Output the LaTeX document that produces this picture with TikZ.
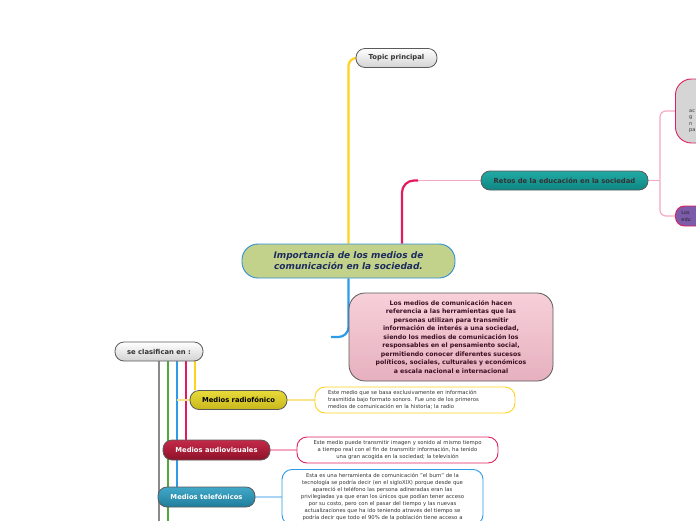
\documentclass[tikz,border=0pt]{standalone}
\usepackage{fontspec}
\setmainfont{DejaVu Sans}
\usetikzlibrary{backgrounds}
\definecolor{lineyellow}{HTML}{FFD21F}
\definecolor{linemag}{HTML}{E5195F}
\definecolor{lineblue}{HTML}{2C9BE8}
\definecolor{linegreen}{HTML}{52A83A}
\definecolor{linegray}{HTML}{8A8A8A}
\definecolor{lightpink}{HTML}{F5A9C1}
\definecolor{lightyellow}{HTML}{FBE38A}
\definecolor{lightblue}{HTML}{A9D4F5}
\definecolor{impfill}{HTML}{C3D28B}
\definecolor{impborder}{HTML}{2F8FD6}
\definecolor{impnavy}{HTML}{1C2B5C}
\definecolor{boxborder}{HTML}{5A5A5A}
\definecolor{textgray}{HTML}{333333}
\definecolor{infotop}{HTML}{F7D0D9}
\definecolor{infobot}{HTML}{E6B0BF}
\definecolor{infotext}{HTML}{3A0F22}
\definecolor{retostop}{HTML}{22AAA5}
\definecolor{retosbot}{HTML}{0E8682}
\definecolor{radiotop}{HTML}{E8DA3A}
\definecolor{radiobot}{HTML}{C9B81C}
\definecolor{audiotop}{HTML}{C42A48}
\definecolor{audiobot}{HTML}{8E1129}
\definecolor{teltop}{HTML}{42A8C8}
\definecolor{telbot}{HTML}{1F7D9C}
\definecolor{purplefill}{HTML}{7B5BAA}
\definecolor{rtopfill}{HTML}{D5D5D5}
\definecolor{rborder}{HTML}{E0205A}
\begin{document}
\begin{tikzpicture}[x=1pt,y=-1pt,
  pill/.style={rounded corners=9pt,minimum height=19pt,inner sep=0pt,draw=boxborder,line width=0.8pt,
    font=\bfseries\fontsize{6.8}{8}\selectfont},
  graypill/.style={pill,top color=white,bottom color=gray!35,text=textgray},
  desc/.style={fill=white,rounded corners=10pt,line width=0.9pt,inner sep=0pt,
    font=\fontsize{5.3}{7}\selectfont,text=textgray},
  trunk/.style={line width=2.2pt},
  twig/.style={line width=1.2pt}]
  \useasboundingbox (0,0) rectangle (696,520);
  \clip (0,0) rectangle (696,520);
  % tema central
  \node[draw=impborder,fill=impfill,line width=0.9pt,rounded corners=16pt,minimum width=213pt,minimum height=34pt,
    align=center,text=impnavy,font=\bfseries\itshape\fontsize{9}{11}\selectfont] (imp) at (348.5,261)
    {Importancia de los medios de\\comunicación en la sociedad.};
  \node[graypill,minimum width=81pt] (topic) at (396.5,58) {Topic principal};
  \node[pill,minimum width=167pt,top color=retostop,bottom color=retosbot,text=textgray] (retos) at (564.5,180.5)
    {Retos de la educación en la sociedad};
  \node[draw=boxborder,line width=0.8pt,top color=infotop,bottom color=infobot,rounded corners=16pt,
    minimum width=204pt,minimum height=88pt,text width=190pt,align=center,text=infotext,
    font=\bfseries\fontsize{6.2}{8.5}\selectfont] (info) at (451,337)
    {Los medios de comunicación hacen\\referencia a las herramientas que las\\personas utilizan para transmitir\\
     información de interés a una sociedad,\\siendo los medios de comunicación los\\responsables en el pensamiento social,\\
     permitiendo conocer diferentes sucesos\\políticos, sociales, culturales y económicos\\a escala nacional e internacional};
  % derecha (cortado)
  \node[draw=rborder,fill=rtopfill,line width=0.9pt,rounded corners=16pt,anchor=west,minimum width=90pt,
    minimum height=64pt] (rtop) at (675,111) {};
  \node[anchor=west,align=left,inner sep=0pt,text=textgray,font=\fontsize{5}{6.5}\selectfont] (rtoptxt) at (689,121)
    {ac\\g\\n\\pa};
  \node[draw=rborder,fill=purplefill,line width=0.9pt,rounded corners=9pt,anchor=west,minimum height=20pt,
    text width=48pt,inner xsep=6pt,inner ysep=0pt,align=left,text=black!85,font=\fontsize{5}{6.5}\selectfont] (rbot) at (675,216)
    {Los\\edu};
  % clasificacion
  \node[graypill,minimum width=88pt] (clas) at (159,351.5) {se clasifican en :};
  \node[pill,minimum width=97pt,top color=radiotop,bottom color=radiobot,text=black] (radio) at (238.5,400)
    {Medios radiofónico};
  \node[pill,minimum width=107pt,minimum height=20pt,top color=audiotop,bottom color=audiobot,text=white] (audio) at (216.5,450)
    {Medios audiovisuales};
  \node[pill,minimum width=97pt,minimum height=20pt,top color=teltop,bottom color=telbot,text=white] (tel) at (206.5,497)
    {Medios telefónicos};
  \node[desc,draw=lineyellow,minimum width=200pt,minimum height=26pt,text width=174pt,align=left] (radiotxt) at (415,400)
    {Este medio que se basa exclusivamente en información\\trasmitida bajo formato sonoro. Fue uno de los primeros\\
     medios de comunicación en la historia; la radio};
  \node[desc,draw=rborder,minimum width=201pt,minimum height=26pt,text width=185pt,align=center] (audiotxt) at (397.5,450)
    {Este medio puede transmitir imagen y sonido al mismo tiempo\\a tiempo real con el fin de transmitir información, ha tenido\\
     una gran acogida en la sociedad; la televisión};
  \node[desc,draw=lineblue,anchor=north,minimum width=201pt,text width=185pt,inner ysep=4pt,align=center] (teltxt) at (382.5,469)
    {Esta es una herramienta de comunicación "el bum" de la\\tecnología se podría decir (en el sigloXIX) porque desde que\\
     apareció el teléfono las persona adineradas eran las\\privilegiadas ya que eran los únicos que podían tener acceso\\
     por su costo, pero con el pasar del tiempo y las nuevas\\actualizaciones que ha ido teniendo atraves del tiempo se\\
     podría decir que todo el 90\% de la población tiene acceso a\\};
  % puntos libres
  \coordinate (rk) at (418,180.5);
  \coordinate (rj) at (660,180.5);
  \coordinate (bk) at (331,337);
  \coordinate (ys) at (177,400);
  \coordinate (gend) at (159,530);
  \coordinate (vend) at (168,530);
  \begin{scope}[on background layer]
    \draw[trunk,lineyellow,rounded corners=8pt] (imp.north) |- (topic.west);
    \draw[trunk,linemag,rounded corners=12pt] ([xshift=53.5pt]imp.north) |- (rk);
    \draw[twig,lightpink] (rk) -- (retos.west);
    \draw[trunk,lineblue,rounded corners=10pt] (imp.south) |- (bk);
    \draw[twig,lightpink] (retos.east) -- (rj);
    \draw[twig,lightpink,rounded corners=6pt] (rj) |- (rtop.west);
    \draw[twig,lightpink,rounded corners=6pt] (rj) |- (rbot.west);
    % ramas de clasificacion
    \draw[trunk,linegray] (clas.south) -- (gend);
    \draw[trunk,linegreen] ([xshift=9pt]clas.south) -- (vend);
    \draw[trunk,lineblue] ([xshift=18pt]clas.south) coordinate (b0) -- (b0 |- tel.north);
    \draw[trunk,linemag] ([xshift=27pt]clas.south) coordinate (m0) -- (m0 |- audio.north);
    \draw[trunk,lineyellow] ([xshift=36pt]clas.south) coordinate (y0) -- (y0 |- radio.north);
    \draw[twig,lightyellow] (ys) -- (radio.west);
    \draw[twig,lightyellow] (radio.east) -- (radiotxt.west);
    \draw[twig,lightpink] (audio.east) -- (audiotxt.west);
    \draw[twig,lightblue] (tel.east) -- (teltxt.west |- tel.east);
  \end{scope}
\end{tikzpicture}
\end{document}
